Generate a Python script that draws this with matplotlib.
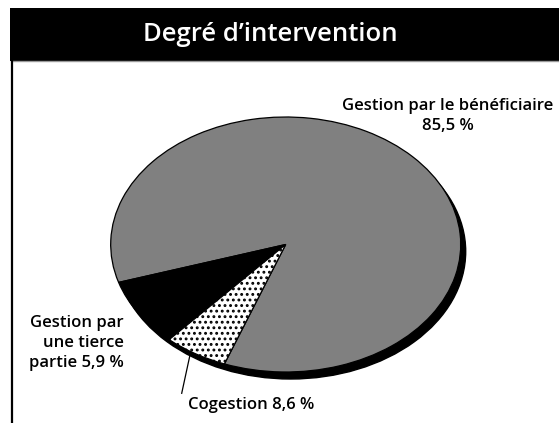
import matplotlib
matplotlib.use("Agg")
import matplotlib.pyplot as plt
from matplotlib.patches import Rectangle, Ellipse
from matplotlib.lines import Line2D

# ---- data ----
title = "Degré d’intervention"
categories = ["Gestion par le bénéficiaire", "Cogestion", "Gestion par une tierce partie"]
values = [85.5, 8.6, 5.9]
label_texts = ["Gestion par le bénéficiaire\n85,5 %",
               "Cogestion 8,6 %",
               "Gestion par\nune tierce\npartie 5,9 %"]

W, H = 559, 423
FONT = ["Open Sans", "DejaVu Sans"]
plt.rcParams["font.family"] = FONT
plt.rcParams["hatch.linewidth"] = 1.3

fig = plt.figure(figsize=(W / 100, H / 100), dpi=100)
fig.patch.set_facecolor("white")

def fx(x):
    return x / W

def fy(y):
    return 1 - y / H

# title bar
fig.patches.append(Rectangle((fx(9.5), fy(61)), 1 - fx(9.5), fy(8) - fy(61),
                             transform=fig.transFigure, facecolor="black",
                             edgecolor="none", zorder=0))
fig.lines.append(Line2D([fx(11), 1], [fy(61.5), fy(61.5)], transform=fig.transFigure,
                        color="#9a9a9a", lw=1.0))
fig.lines.append(Line2D([fx(12), fx(12)], [fy(61), 0], transform=fig.transFigure,
                        color="black", lw=1.6))
fig.text(fx(270), fy(34.5), title, color="white", fontsize=18.5, fontweight="semibold",
         ha="center", va="center")

# pie axes: ellipse bounding box
left, right, top, bottom = 110.7, 460.7, 117, 372
ax = fig.add_axes([fx(left), fy(bottom), fx(right) - fx(left), fy(top) - fy(bottom)])
colors = ["#808080", "black", "white"]
hatches = [None, None, "..."]
wedges, _ = ax.pie(values, colors=colors, startangle=249.5, counterclock=True,
                   radius=1.0, wedgeprops=dict(edgecolor="black", linewidth=0.9))
for w, h in zip(wedges, hatches):
    if h:
        w.set_hatch(h)
ax.set_aspect("auto")
ax.set_xlim(-1, 1)
ax.set_ylim(-1, 1)
ax.axis("off")
shadow = Ellipse((5 / 175, -7 / 127.5), 2, 2, facecolor="black", edgecolor="black",
                 zorder=0, clip_on=False)
ax.add_patch(shadow)
for w in wedges:
    w.set_zorder(2)
    w.set_clip_on(False)

# labels
fs = 12
fig.text(fx(448), fy(116), label_texts[0], fontsize=fs, fontweight="semibold",
         ha="center", va="center", linespacing=1.4)
fig.text(fx(188), fy(405), label_texts[1], fontsize=fs, fontweight="semibold",
         ha="left", va="center")
fig.text(fx(124), fy(343), label_texts[2], fontsize=fs, fontweight="semibold",
         ha="right", va="center", linespacing=1.3)
fig.lines.append(Line2D([fx(181.7), fx(190.7)], [fy(393.3), fy(351.7)],
                        transform=fig.transFigure, color="black", lw=0.9))

fig.savefig("out.png", dpi=100)
